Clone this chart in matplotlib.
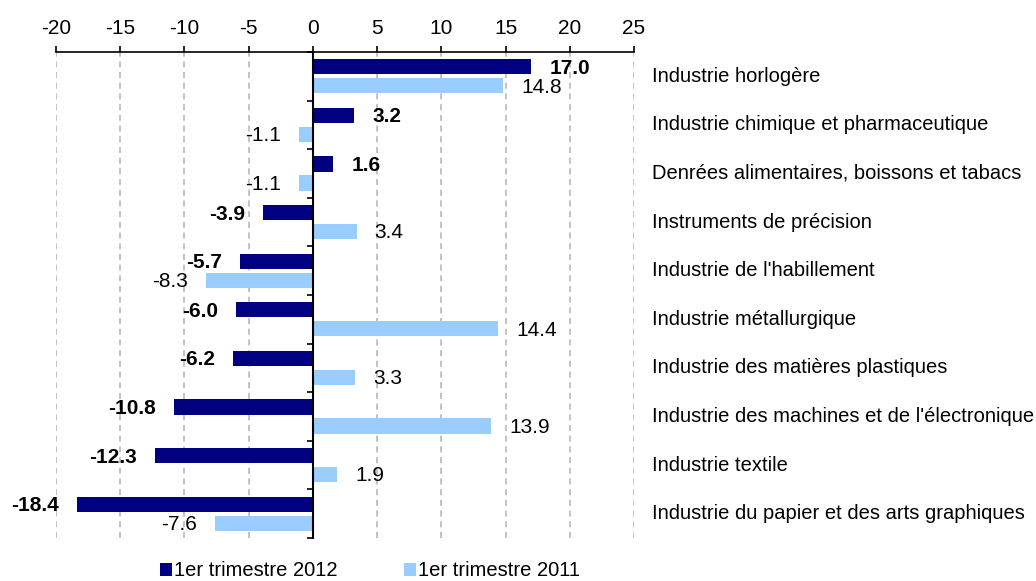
import matplotlib
matplotlib.use("Agg")
import matplotlib.pyplot as plt
import matplotlib.transforms as mtransforms
from matplotlib.patches import Patch
import numpy as np

categories = [
    "Industrie horlogère",
    "Industrie chimique et pharmaceutique",
    "Denrées alimentaires, boissons et tabacs",
    "Instruments de précision",
    "Industrie de l'habillement",
    "Industrie métallurgique",
    "Industrie des matières plastiques",
    "Industrie des machines et de l'électronique",
    "Industrie textile",
    "Industrie du papier et des arts graphiques",
]
values_2012 = [17.0, 3.2, 1.6, -3.9, -5.7, -6.0, -6.2, -10.8, -12.3, -18.4]
values_2011 = [14.8, -1.1, -1.1, 3.4, -8.3, 14.4, 3.3, 13.9, 1.9, -7.6]
series_names = ["1er trimestre 2012", "1er trimestre 2011"]
xticks = [-20, -15, -10, -5, 0, 5, 10, 15, 20, 25]

plt.rcParams['font.family'] = ['Liberation Sans', 'DejaVu Sans']
FS = 14.5
DARK = "#000080"
LIGHT = "#99CCFF"

fig = plt.figure(figsize=(10.36, 5.81), dpi=100)
ax = fig.add_axes([56/1036, 1-538/581, (634-56)/1036, (538-52)/581])

y = np.arange(len(categories))
off = 0.195
h = 0.31
ax.barh(y - off, values_2012, height=h, color=DARK, zorder=3)
ax.barh(y + off, values_2011, height=h, color=LIGHT, zorder=3)

ax.set_xlim(-20, 25)
ax.set_ylim(len(categories) - 0.5, -0.5)

# x axis on top
ax.xaxis.tick_top()
ax.set_xticks(xticks)
ax.set_xticklabels([str(t) for t in xticks])
ax.tick_params(axis='x', which='both', direction='out', length=4, width=1.2,
               labelsize=FS + 0.5, pad=6, colors='black')
for t in xticks:
    if t != 0:
        ax.axvline(t, color='#B3B3B3', lw=1.1, ls=(0, (4, 3)), zorder=1)

# y axis at zero
ax.spines['left'].set_position(('data', 0))
ax.spines['left'].set_linewidth(1.5)
ax.spines['top'].set_linewidth(1.2)
ax.spines['right'].set_visible(False)
ax.spines['bottom'].set_visible(False)
ax.spines['left'].set_zorder(4)
ax.set_yticks(np.arange(len(categories) + 1) - 0.5)
ax.set_yticklabels([])
ax.tick_params(axis='y', direction='out', length=4, width=1.2)

# category labels on the right
trans = mtransforms.blended_transform_factory(ax.transAxes, ax.transData)
for i, c in enumerate(categories):
    ax.text(596/578, i, c, transform=trans, ha='left', va='center', fontsize=FS)

# data labels
gap = 13
for i, v in enumerate(values_2012):
    ax.annotate(f"{v:.1f}", (v, i - off), xytext=(gap if v >= 0 else -gap, -1),
                textcoords='offset points', ha='left' if v >= 0 else 'right',
                va='center', fontsize=FS + 0.5, fontweight='bold')
for i, v in enumerate(values_2011):
    ax.annotate(f"{v:.1f}", (v, i + off), xytext=(gap if v >= 0 else -gap, -1),
                textcoords='offset points', ha='left' if v >= 0 else 'right',
                va='center', fontsize=FS + 0.5)

handles = [Patch(facecolor=DARK, edgecolor='none'), Patch(facecolor=LIGHT, edgecolor='none')]
fig.legend(handles, series_names, loc='center', bbox_to_anchor=(370/1036, 1-571/581),
           ncol=2, frameon=False, fontsize=FS, handlelength=0.6, handleheight=0.6,
           handletextpad=0.12, columnspacing=3.3, borderpad=0)

fig.savefig("out.png", dpi=100)
